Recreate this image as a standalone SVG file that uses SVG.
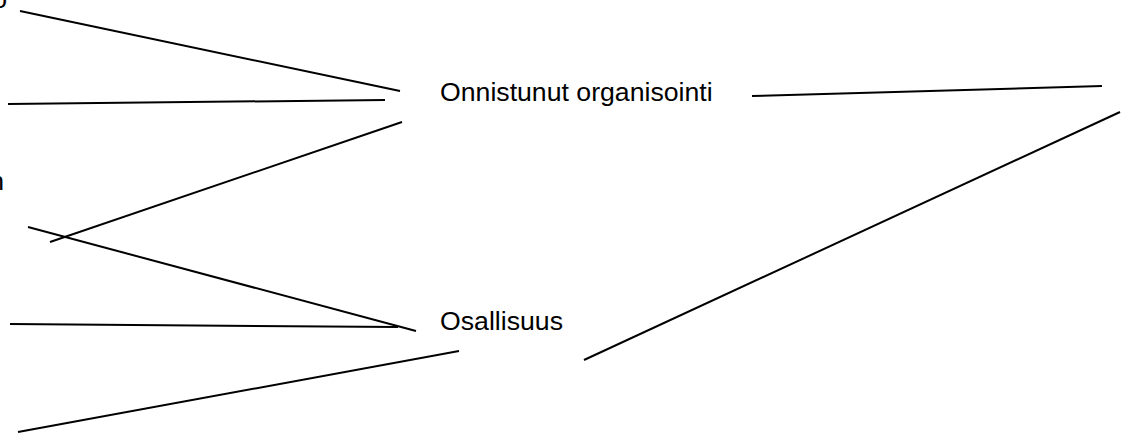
<svg xmlns="http://www.w3.org/2000/svg" width="1124" height="438" viewBox="0 0 1124 438">
  <style>
    .lbl { font-family: "Liberation Sans", Arial, sans-serif; font-size: 26.67px; fill: #000; }
    .edge { stroke: #000; stroke-width: 2; fill: none; stroke-linecap: butt; }
  </style>
  <rect width="1124" height="438" fill="#fff"/>

  <!-- labels clipped at the left edge -->
  <g id="node-left-top">
    <text class="lbl" x="7" y="8" text-anchor="end">o</text>
  </g>
  <g id="node-left-mid">
    <text class="lbl" x="4" y="190" text-anchor="end">n</text>
  </g>

  <g id="node-organisointi">
    <text class="lbl" x="440" y="101">Onnistunut organisointi</text>
  </g>
  <g id="node-osallisuus">
    <text class="lbl" x="440" y="330">Osallisuus</text>
  </g>

  <g id="connectors">
    <line class="edge" x1="20" y1="11" x2="400" y2="91"/>
    <line class="edge" x1="8" y1="104" x2="385" y2="100"/>
    <line class="edge" x1="50" y1="242" x2="402" y2="122"/>
    <line class="edge" x1="28" y1="227" x2="416" y2="331"/>
    <line class="edge" x1="10" y1="324" x2="398" y2="327"/>
    <line class="edge" x1="18" y1="432" x2="459" y2="351"/>
    <line class="edge" x1="752" y1="96" x2="1102" y2="86"/>
    <line class="edge" x1="584" y1="360" x2="1120" y2="112"/>
  </g>
</svg>
